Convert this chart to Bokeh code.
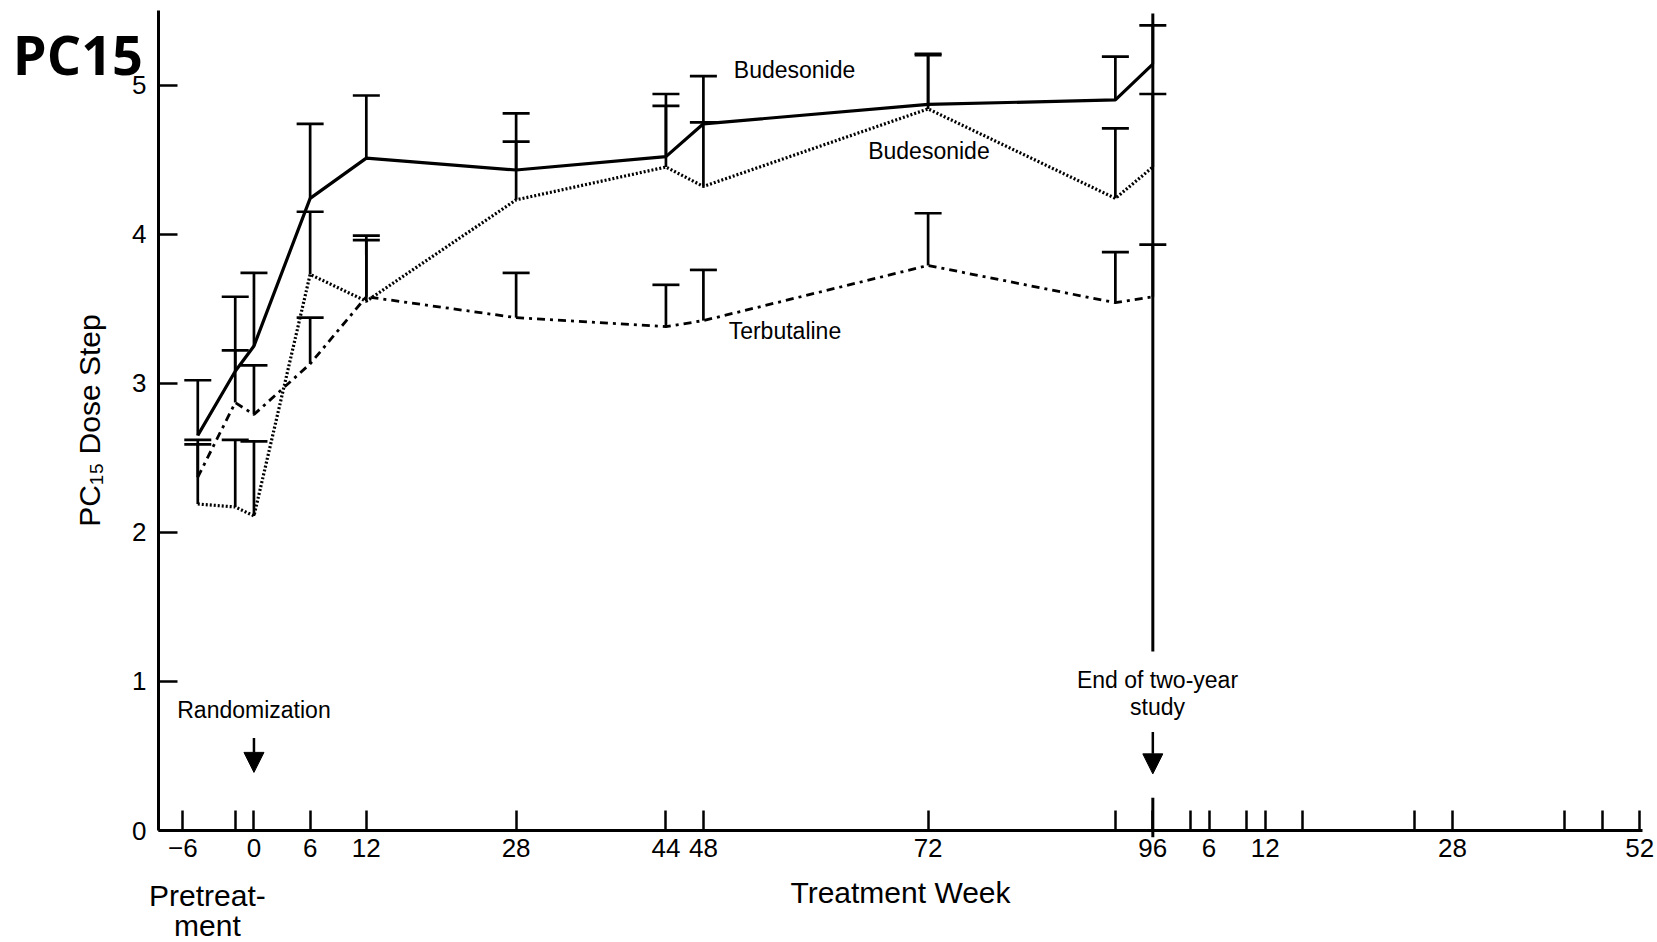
from bokeh.plotting import figure
from bokeh.models import (ColumnDataSource, Range1d, FixedTicker, Whisker, TeeHead,
                          Label, Arrow, NormalHead)
from bokeh.embed import file_html
from bokeh.resources import INLINE

# ---------------- data ----------------
WEEKS = [-6, -2, 0, 6, 12, 28, 44, 48, 72, 92, 96]

BUD_SOLID = [2.65, 3.08, 3.25, 4.24, 4.51, 4.43, 4.52, 4.74, 4.87, 4.90, 5.14]
BUD_SOLID_HI = [3.02, 3.58, 3.74, 4.74, 4.93, 4.81, 4.94, 5.06, 5.21, 5.19, 5.40]

BUD_DOT = [2.19, 2.17, 2.11, 3.73, 3.55, 4.23, 4.45, 4.32, 4.84, 4.24, 4.45]
BUD_DOT_HI = [2.62, 2.62, 2.61, 4.15, 3.99, 4.62, 4.86, 4.75, 5.20, 4.71, 4.94]

TERB = [2.37, 2.87, 2.79, 3.13, 3.58, 3.44, 3.38, 3.42, 3.79, 3.54, 3.58]
TERB_HI = [2.59, 3.22, 3.12, 3.44, 3.96, 3.74, 3.66, 3.76, 4.14, 3.88, 3.93]

X_TICKS = [-7.6, -2, 0, 6, 12, 28, 44, 48, 72, 92, 96, 100, 102, 106, 108, 112,
           124, 128, 140, 144, 148]
X_TICK_LABELS = ["\u22126", "", "0", "6", "12", "28", "44", "48", "72", "", "96", "",
                 "6", "", "12", "", "", "28", "", "", "52"]
Y_TICKS = [0, 1, 2, 3, 4, 5]

X_AXIS_SPAN = (-10.2, 148.3)
Y_AXIS_SPAN = (0, 5.5)

FONT = "Liberation Sans"

p = figure(width=1657, height=942, output_backend="svg", toolbar_location=None,
           x_range=Range1d(-27.07, 149.9), y_range=Range1d(-0.751, 5.567),
           min_border=0, min_border_left=0, min_border_right=0,
           min_border_top=0, min_border_bottom=0)
p.outline_line_color = None
p.grid.visible = False
p.background_fill_color = "white"
p.border_fill_color = "white"

# axes (pinned at the data origin so the whole canvas is the frame)
xa = p.xaxis[0]
xa.fixed_location = 0
xa.bounds = X_AXIS_SPAN
xa.ticker = FixedTicker(ticks=X_TICKS)
xa.major_label_overrides = {t: l for t, l in zip(X_TICKS, X_TICK_LABELS)}
xa.major_tick_in = 20
xa.major_tick_out = 0
xa.major_tick_line_width = 2.5
xa.major_tick_line_color = "black"
xa.minor_tick_line_color = None
xa.axis_line_width = 3
xa.axis_line_color = "black"
xa.major_label_text_font = FONT
xa.major_label_text_font_size = "26px"
xa.major_label_text_color = "black"
xa.major_label_standoff = 8
xa.axis_label = "Treatment Week"
xa.axis_label_text_font = FONT
xa.axis_label_text_font_size = "30px"
xa.axis_label_text_font_style = "normal"
xa.axis_label_text_color = "black"
xa.axis_label_standoff = 16

ya = p.yaxis[0]
ya.fixed_location = X_AXIS_SPAN[0]
ya.bounds = Y_AXIS_SPAN
ya.ticker = FixedTicker(ticks=Y_TICKS)
ya.major_tick_in = 19
ya.major_tick_out = 0
ya.major_tick_line_width = 2.5
ya.major_tick_line_color = "black"
ya.minor_tick_line_color = None
ya.axis_line_width = 3
ya.axis_line_color = "black"
ya.major_label_text_font = FONT
ya.major_label_text_font_size = "26px"
ya.major_label_text_color = "black"
ya.major_label_standoff = 12
ya.axis_label = "PC\u2081\u2085 Dose Step"
ya.axis_label_text_font = FONT
ya.axis_label_text_font_size = "30px"
ya.axis_label_text_font_style = "normal"
ya.axis_label_text_color = "black"
ya.axis_label_standoff = 23

# series
series = [
    (BUD_SOLID, BUD_SOLID_HI, "solid", 3.2),
    (BUD_DOT, BUD_DOT_HI, "2 2", 3.2),
    (TERB, TERB_HI, "8 5 3 5", 2.8),
]
for ys, hi, dash, lw in series:
    src = ColumnDataSource(dict(x=WEEKS, y=ys, hi=hi))
    p.add_layout(Whisker(source=src, base="x", upper="hi", lower="y", dimension="height",
                         upper_head=TeeHead(size=27, line_width=2.7, line_color="black"),
                         lower_head=None, line_width=2.7, line_color="black"))
    p.line("x", "y", source=src, line_color="black", line_width=lw, line_dash=dash)

# end-of-study vertical line at week 96
p.segment(x0=[96, 96], y0=[1.20, -0.045], x1=[96, 96], y1=[5.48, 0.22],
          line_color="black", line_width=3)

# arrows
p.add_layout(Arrow(x_start=0, y_start=0.62, x_end=0, y_end=0.39, line_width=2.5,
                   end=NormalHead(size=20, fill_color="black", line_color="black")))
p.add_layout(Arrow(x_start=96, y_start=0.66, x_end=96, y_end=0.38, line_width=2.5,
                   end=NormalHead(size=20, fill_color="black", line_color="black")))


def lab(x, y, text, size="23px", align="left", font=FONT, style="normal", baseline="middle"):
    p.add_layout(Label(x=x, y=y, text=text, text_font=font, text_font_size=size,
                       text_align=align, text_baseline=baseline, text_font_style=style,
                       text_color="black"))


lab(51.25, 5.10, "Budesonide")
lab(65.6, 4.56, "Budesonide")
lab(50.7, 3.35, "Terbutaline")
lab(0.0, 0.81, "Randomization", align="center")
lab(96.5, 1.01, "End of two-year", align="center")
lab(96.5, 0.83, "study", align="center")
lab(-4.97, -0.435, "Pretreat-", size="30px", align="center")
lab(-4.97, -0.64, "ment", size="30px", align="center")
lab(-25.75, 5.21, "PC15", size="54px", font="Open Sans", style="bold")

open("out.html", "w").write(file_html(p, INLINE))
